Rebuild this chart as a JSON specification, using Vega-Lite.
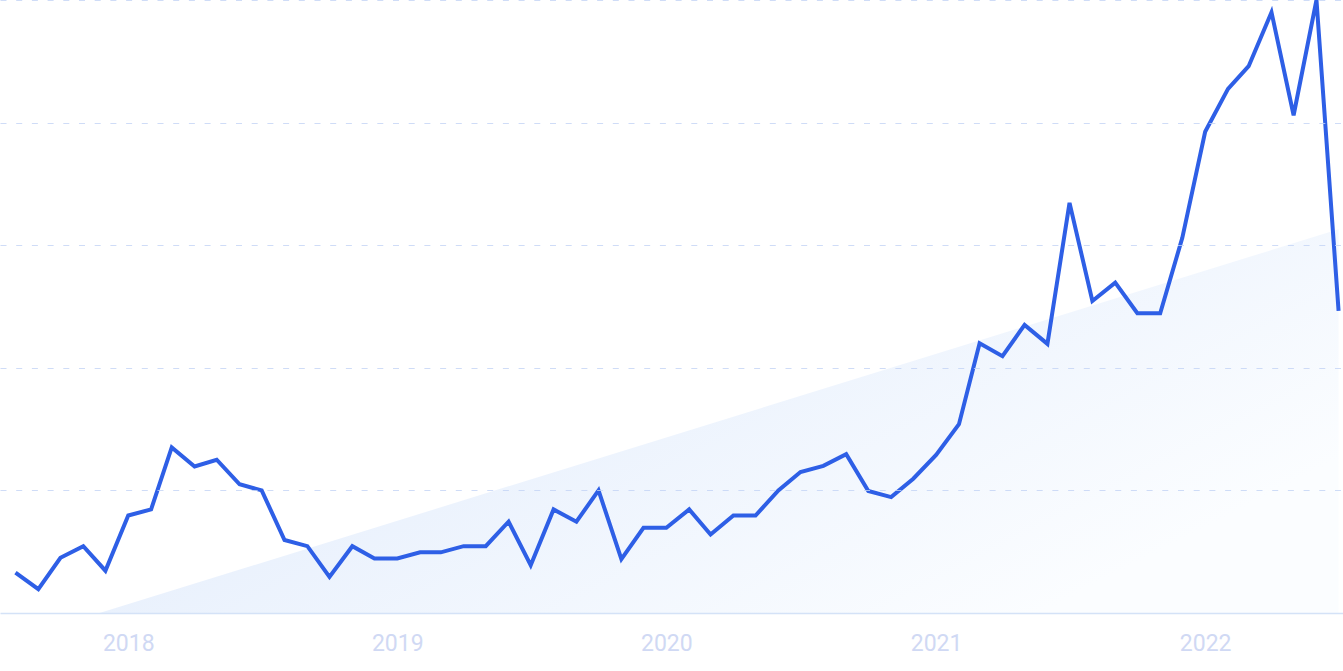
{
  "$schema": "https://vega.github.io/schema/vega-lite/v6.json",
  "width": 1343,
  "height": 613,
  "autosize": {"type": "none"},
  "padding": {"left": 0, "right": 0, "top": 0, "bottom": 58},
  "background": "white",
  "config": {"view": {"stroke": null}},
  "layer": [
    {
      "data": {"values": [
        {"date": "2017-11-23", "trend": 0},
        {"date": "2022-07-01", "trend": 62.6}
      ]},
      "mark": {
        "type": "area",
        "color": {
          "gradient": "linear", "x1": 0, "y1": 0, "x2": 1, "y2": 0.6,
          "stops": [
            {"offset": 0, "color": "#dce8fb"},
            {"offset": 1, "color": "#fbfdff"}
          ]
        }
      },
      "encoding": {
        "x": {
          "field": "date", "type": "temporal", "title": null,
          "scale": {
            "type": "utc",
            "domain": [
              {"year": 2017, "month": 7, "date": 11, "utc": true},
              {"year": 2022, "month": 7, "date": 7, "utc": true}
            ]
          },
          "axis": {
            "format": "%Y",
            "values": [
              {"year": 2018, "utc": true}, {"year": 2019, "utc": true},
              {"year": 2020, "utc": true}, {"year": 2021, "utc": true},
              {"year": 2022, "utc": true}
            ],
            "ticks": false, "tickSize": 0, "grid": false,
            "domainColor": "#d4e2f7", "domainWidth": 1.5,
            "labelColor": "#d0d9f4", "labelFont": "Roboto", "labelFontSize": 23,
            "labelPadding": 19, "labelFlush": false, "labelOverlap": false,
            "zindex": 1
          }
        },
        "y": {
          "field": "trend", "type": "quantitative", "title": null,
          "scale": {"domain": [0, 100], "nice": false},
          "axis": {
            "values": [20, 40, 60, 80, 100],
            "labels": false, "ticks": false, "domain": false,
            "grid": true, "gridColor": "#c3d3f5", "gridOpacity": 0.8,
            "gridDash": [6, 9.7], "gridWidth": 1, "zindex": 1
          }
        }
      }
    },
    {
      "data": {"values": [
        {"month": "2017-08-01", "value": 6.6},
        {"month": "2017-09-01", "value": 3.9},
        {"month": "2017-10-01", "value": 9.0},
        {"month": "2017-11-01", "value": 10.9},
        {"month": "2017-12-01", "value": 6.9},
        {"month": "2018-01-01", "value": 15.9},
        {"month": "2018-02-01", "value": 16.9},
        {"month": "2018-03-01", "value": 27.0},
        {"month": "2018-04-01", "value": 23.9},
        {"month": "2018-05-01", "value": 25.0},
        {"month": "2018-06-01", "value": 21.0},
        {"month": "2018-07-01", "value": 20.0},
        {"month": "2018-08-01", "value": 11.9},
        {"month": "2018-09-01", "value": 10.9},
        {"month": "2018-10-01", "value": 5.9},
        {"month": "2018-11-01", "value": 10.9},
        {"month": "2018-12-01", "value": 8.9},
        {"month": "2019-01-01", "value": 8.9},
        {"month": "2019-02-01", "value": 9.9},
        {"month": "2019-03-01", "value": 9.9},
        {"month": "2019-04-01", "value": 10.9},
        {"month": "2019-05-01", "value": 10.9},
        {"month": "2019-06-01", "value": 14.9},
        {"month": "2019-07-01", "value": 7.8},
        {"month": "2019-08-01", "value": 16.9},
        {"month": "2019-09-01", "value": 14.9},
        {"month": "2019-10-01", "value": 20.0},
        {"month": "2019-11-01", "value": 8.8},
        {"month": "2019-12-01", "value": 13.9},
        {"month": "2020-01-01", "value": 13.9},
        {"month": "2020-02-01", "value": 16.9},
        {"month": "2020-03-01", "value": 12.8},
        {"month": "2020-04-01", "value": 15.9},
        {"month": "2020-05-01", "value": 15.9},
        {"month": "2020-06-01", "value": 20.0},
        {"month": "2020-07-01", "value": 23.0},
        {"month": "2020-08-01", "value": 24.0},
        {"month": "2020-09-01", "value": 25.9},
        {"month": "2020-10-01", "value": 19.9},
        {"month": "2020-11-01", "value": 18.9},
        {"month": "2020-12-01", "value": 21.9},
        {"month": "2021-01-01", "value": 25.8},
        {"month": "2021-02-01", "value": 30.8},
        {"month": "2021-03-01", "value": 44.0},
        {"month": "2021-04-01", "value": 41.9},
        {"month": "2021-05-01", "value": 47.0},
        {"month": "2021-06-01", "value": 43.9},
        {"month": "2021-07-01", "value": 66.9},
        {"month": "2021-08-01", "value": 50.9},
        {"month": "2021-09-01", "value": 53.9},
        {"month": "2021-10-01", "value": 48.9},
        {"month": "2021-11-01", "value": 48.9},
        {"month": "2021-12-01", "value": 61.2},
        {"month": "2022-01-01", "value": 78.5},
        {"month": "2022-02-01", "value": 85.5},
        {"month": "2022-03-01", "value": 89.2},
        {"month": "2022-04-01", "value": 98.0},
        {"month": "2022-05-01", "value": 81.2},
        {"month": "2022-06-01", "value": 100},
        {"month": "2022-07-01", "value": 49.3}
      ]},
      "mark": {"type": "line", "color": "#2e5fe6", "strokeWidth": 4},
      "encoding": {
        "x": {"field": "month", "type": "temporal"},
        "y": {"field": "value", "type": "quantitative"}
      }
    }
  ]
}
